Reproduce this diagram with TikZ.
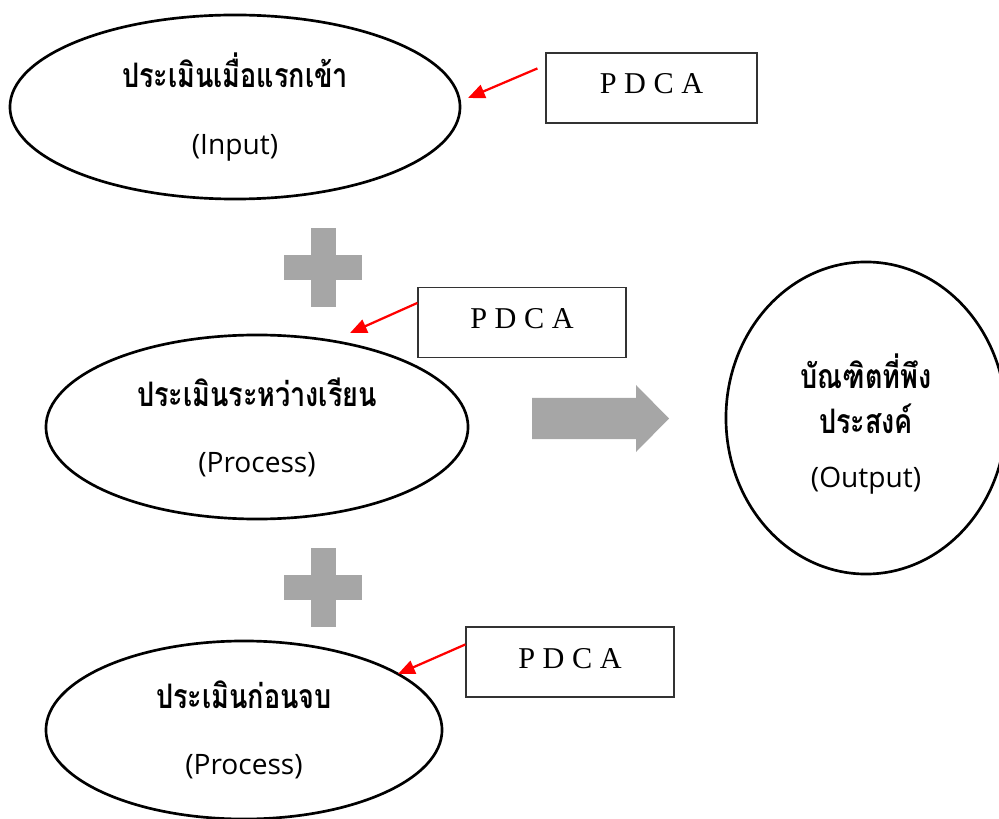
\documentclass[tikz,border=0pt]{standalone}
\usepackage{fontspec}
\setmainfont{Open Sans}
\newfontfamily\thaifont[Script=Thai, FakeStretch=0.8]{Loma}
\newfontfamily\pdcafont{Liberation Serif}
\usetikzlibrary{shapes, arrows.meta, positioning}
\definecolor{plusgray}{RGB}{166,166,166}
\newcommand{\thaitext}[1]{{\thaifont\bfseries\fontsize{24}{31}\selectfont #1}}

\begin{document}
\begin{tikzpicture}[x=0.025cm, y=-0.025cm,
	stage/.style={ellipse, draw, line width=1.9pt, inner sep=0pt, align=center, font=\fontsize{20}{47}\selectfont},
	pdca/.style={draw=black!80, line width=0.8pt, inner sep=0pt, minimum width=5.2cm, text height=1.025cm, text depth=0.725cm, font=\pdcafont\fontsize{21.5}{26}\selectfont},
	hint/.style={-{Triangle[length=0.42cm, width=0.35cm]}, red, line width=1.6pt}]
	\useasboundingbox (0,0) rectangle (999,819);

	\node[stage, minimum width=11.25cm, minimum height=4.6cm] (input) at (235,107) {\thaitext{ประเมินเมื่อแรกเข้า}\\(Input)};
	\node[stage, minimum width=10.55cm, minimum height=4.6cm] (process) at (257,427) {\thaitext{ประเมินระหว่างเรียน}\\(Process)};
	\node[stage, minimum width=9.9cm, minimum height=4.45cm] (final) at (244,730) {\thaitext{ประเมินก่อนจบ}\\(Process)};
	\node[stage, minimum width=7cm, minimum height=7.8cm] (output) at (866,418) {};
	\node[align=center, font=\fontsize{20}{32}\selectfont] at ([yshift=-0.15cm]output.center) {\thaitext{บัณฑิตที่พึง}\\\thaitext{ประสงค์}\\[7pt](Output)};

	\node[pdca, minimum width=5.275cm] (pdca1) at (651.5,88) {P D C A};
	\node[pdca] (pdca2) at (522,322.5) {P D C A};
	\node[pdca] (pdca3) at (570,662) {P D C A};

	\coordinate (tip1) at (468,98);
	\coordinate (tip2) at (350,333);
	\coordinate (tip3) at (398,674);
	\draw[hint] ([xshift=-0.2cm, yshift=-0.4cm]pdca1.north west) -- (tip1);
	\draw[hint] ([yshift=-0.4cm]pdca2.north west) -- (tip2);
	\draw[hint] ([yshift=-0.45cm]pdca3.north west) -- (tip3);

	\foreach \y in {267.5, 587.5} {
		\fill[plusgray] (284,\y-12.5) rectangle (362,\y+12.5);
		\fill[plusgray] (310.5,\y-39.5) rectangle (335.5,\y+39.5);
	}
	\fill[plusgray] (532,398) -- (636,398) -- (636,385) -- (669,418.5) -- (636,452) -- (636,439) -- (532,439) -- cycle;
\end{tikzpicture}
\end{document}
